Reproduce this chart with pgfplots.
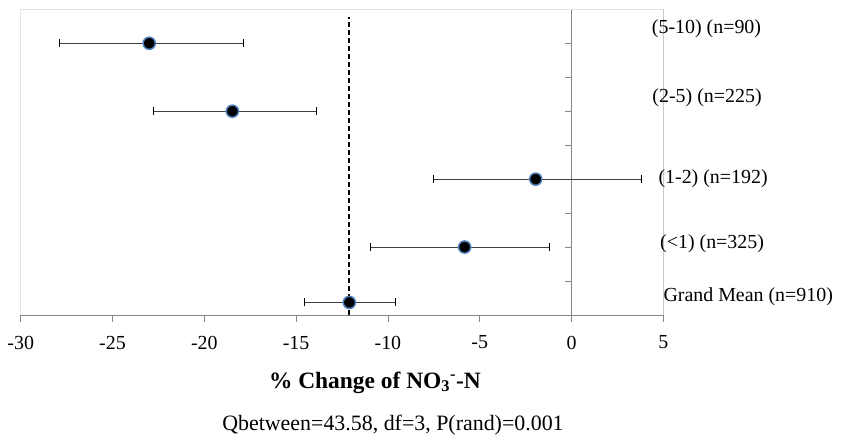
\documentclass[border=0pt]{standalone}
\usepackage{fontspec}
\setmainfont{Liberation Serif}
\usepackage{pgfplots}
\pgfplotsset{compat=1.18}
\usepackage{pgfplotstable}
\definecolor{markblue}{HTML}{4F81BD}
\definecolor{axisgray}{HTML}{868686}
\definecolor{bordergray}{HTML}{E3E3E3}
\definecolor{rightgray}{HTML}{C8C8C8}

\pgfplotstableread{
x y ep em
-23.00 8 5.15 4.88
-18.47 6 4.57 4.29
-1.95 4 5.77 5.55
-5.82 2 4.63 5.12
-12.10 0.37 2.52 2.43
}\effects

\begin{document}
\begin{tikzpicture}
\begin{axis}[
  scale only axis, width=642.6bp, height=305.7bp,
  xmin=-30, xmax=5, ymin=0, ymax=9,
  axis x line=bottom, axis y line=middle,
  axis line style={-, draw=axisgray, line width=0.8bp},
  xtick={-30,-25,...,5},
  xticklabels={-30,-25,-20,-15,-10,-5,0,5},
  ytick={1,...,8}, yticklabels={},
  tick align=center, major tick length=6.7bp,
  x tick style={draw=axisgray, line width=0.8bp, yshift=-3.35bp},
  y tick style={draw=axisgray, line width=0.8bp, xshift=-3.35bp},
  xticklabel style={font=\fontsize{20}{22}\selectfont, yshift=-14bp},
  clip=false,
]
\draw[bordergray, line width=0.8bp] (rel axis cs:0,0) -- (rel axis cs:0,1) -- (rel axis cs:1,1);
\draw[rightgray, line width=0.8bp] (rel axis cs:1,1) -- (rel axis cs:1,0);
\addplot[black, line width=2bp, dash pattern=on 5bp off 3bp] coordinates {(-12.1,0) (-12.1,8.77)};
\addplot[only marks, mark=*, mark size=6.1bp,
  mark options={fill=black, draw=markblue, line width=1.5bp},
  error bars/.cd, x dir=both, x explicit,
  error bar style={black!75, line width=1bp},
  error mark options={rotate=90, mark size=4bp, black, line width=1bp}]
  table[x=x, y=y, x error plus=ep, x error minus=em]{\effects};
\begin{scope}[every node/.style={anchor=west, inner sep=0pt, font=\fontsize{20}{22}\selectfont}]
\node at (axis cs:4.37,8.44) {(5-10) (n=90)};
\node at (axis cs:4.40,6.40) {(2-5) (n=225)};
\node at (axis cs:4.73,4.02) {(1-2) (n=192)};
\node at (axis cs:4.82,2.09) {(<1) (n=325)};
\node at (axis cs:5.00,0.54) {Grand Mean (n=910)};
\end{scope}
\end{axis}
\node[inner sep=0pt, font=\fontsize{23.5}{25}\selectfont\bfseries] at ([shift={(354.2bp,-67.5bp)}]current axis.south west) {\% Change of NO\textsubscript{3}\textsuperscript{-}-N};
\node[inner sep=0pt, font=\fontsize{22}{24}\selectfont] at ([shift={(372.3bp,-110bp)}]current axis.south west) {Qbetween=43.58, df=3, P(rand)=0.001};
\pgfresetboundingbox
\path[use as bounding box] ([shift={(-20.7bp,-125bp)}]current axis.south west) rectangle ++(842bp,440bp);
\end{tikzpicture}
\end{document}
